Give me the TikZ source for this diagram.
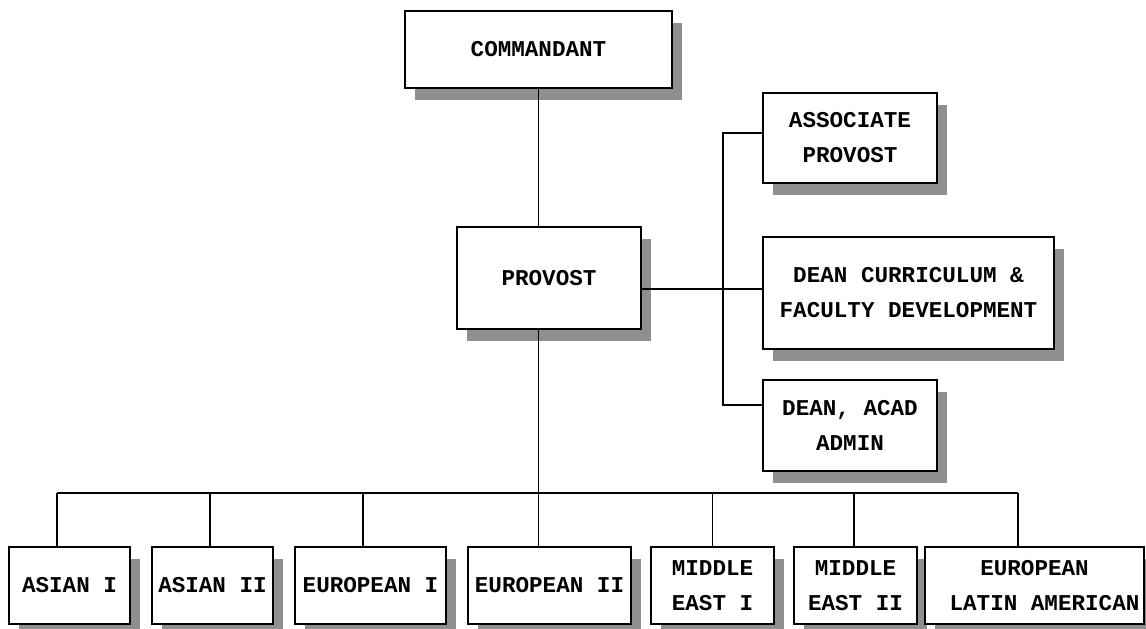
\documentclass[tikz,border=0pt]{standalone}
\usepackage{fontspec}
\newfontfamily\orgfont{Liberation Mono}
\usepackage{tikz}
\usetikzlibrary{positioning,calc,shadows}

\begin{document}
\begin{tikzpicture}[
  x=1pt, y=-1pt,
  box/.style={draw, line width=1.7pt, fill=white, inner sep=0pt, align=center,
    font=\orgfont\bfseries\fontsize{22.6}{35}\selectfont,
    drop shadow={shadow xshift=10pt, shadow yshift=-12pt, fill=black!44, opacity=1}},
  link/.style={line width=1.5pt}
]
  \useasboundingbox (0,0) rectangle (1146,629);

  % top of the chart
  \node[box, minimum width=267pt, minimum height=77pt]  (cmd)   at (538.5,49.5) {COMMANDANT};
  \node[box, minimum width=184pt, minimum height=102pt] (prov)  at (549,278)    {PROVOST};

  % staff on the right
  \node[box, minimum width=174pt, minimum height=90pt]  (assoc) at (850,138)    {ASSOCIATE\\PROVOST};
  \node[box, minimum width=291pt, minimum height=112pt] (curr)  at (908.5,293)  {DEAN CURRICULUM \&\\FACULTY DEVELOPMENT};
  \node[box, minimum width=174pt, minimum height=91pt]  (acad)  at (850,425.5)  {DEAN, ACAD\\ADMIN};

  % departments
  \node[box, minimum width=121pt, minimum height=77pt] (asia1) at (69.5,585.5)  {ASIAN I};
  \node[box, minimum width=121pt, minimum height=77pt] (asia2) at (212.5,585.5) {ASIAN II};
  \node[box, minimum width=151pt, minimum height=77pt] (euro1) at (370.5,585.5) {EUROPEAN I};
  \node[box, minimum width=163pt, minimum height=77pt] (euro2) at (549.5,585.5) {EUROPEAN II};
  \node[box, minimum width=123pt, minimum height=77pt] (mide1) at (712.5,585.5) {MIDDLE\\EAST I};
  \node[box, minimum width=123pt, minimum height=77pt] (mide2) at (855.5,585.5) {MIDDLE\\EAST II};
  \node[box, minimum width=219pt, minimum height=77pt] (eula)  at (1034.5,585.5) {EUROPEAN\\\hspace*{20pt}LATIN AMERICAN};

  \coordinate (bus) at (0,493);
  \coordinate (spine) at (723,0);

  \draw[link] (cmd.south) -- (cmd.south |- prov.north);
  \draw[link] (cmd.south |- prov.south) -- (cmd.south |- bus);

  % drops to the departments
  \foreach \n/\dx in {asia1/-12.5, asia2/-2.5, euro1/-7.5, euro2/-11, mide1/0, mide2/-1.5, eula/-16.5}
    \draw[link] ($(\n.north)+(\dx,0)$) coordinate (d-\n) -- (d-\n |- bus);
  \draw[link] (d-asia1 |- bus) -- (d-eula |- bus);

  % staff links
  \coordinate (c-curr)  at ([yshift=4pt]curr.west);
  \coordinate (c-assoc) at ([yshift=5pt]assoc.west);
  \coordinate (c-acad)  at ([yshift=20.5pt]acad.west);
  \draw[link] (c-curr) -- (prov.east |- c-curr);
  \draw[link] (c-assoc) -- (spine |- c-assoc) -- (spine |- c-acad) -- (c-acad);
\end{tikzpicture}
\end{document}
